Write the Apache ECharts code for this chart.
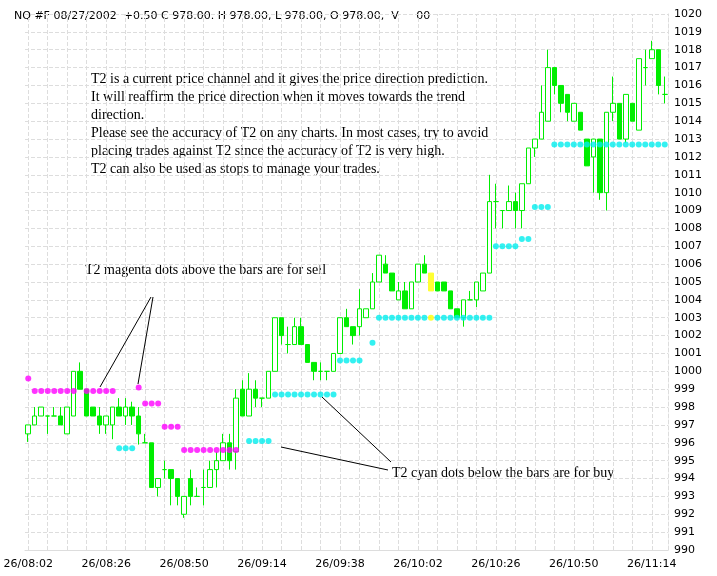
<!DOCTYPE html>
<html><head><meta charset="utf-8">
<script src="https://cdn.jsdelivr.net/npm/echarts@6/dist/echarts.min.js"></script>
<style>html,body{margin:0;padding:0;background:#fff}#c{width:717px;height:576px}</style>
</head><body><div id="c"></div>
<script>
// [open, close, low, high]
const bars = [
[996.5,997,996.05,997],[997,997.5,997,998],[997.5,998,997.5,998],[997.5,997.5,996.5,997.5],[997.5,997.5,997.5,998],
[997.5,997,997,998],[996.5,998,996.5,998],[997.5,1000,997.5,1000],[1000,999,999,1000.5],[999,997.5,997.5,999],
[998,997.5,997.5,998],[997.5,997,996.5,998],[997,997.5,996.5,997.5],[997,998,996.2,998],[998,997.5,997.5,998.5],
[997.5,998,997,998.5],[998,997.5,997,998.3],[997.5,996.5,995.9,998],[996,996,996,996.5],[996,993.5,993.5,996],
[993.5,994,993,994],[994.5,994.5,994,995],[994.5,994,992.5,994.5],[994,993,992.5,994],[992,993,991.8,993],
[994,993,992.5,994.5],[993,993,993,993.5],[993.5,993.5,992.5,994.5],[993.5,994.5,993.5,995],[994.5,995,993.5,995.5],
[995,996,995,996.5],[996,995,994.5,996.5],[995.5,998.5,994.5,999],[999,997.5,997.5,999.5],[997.5,999,997.5,999.9],
[999,998.5,998,999.5],[998.5,998.5,998,998.5],[998.5,1000,998.5,1000],[1000,1003,1000,1003],[1003,1002,1001.5,1003],
[1001.5,1001.5,1001,1002.5],[1001.5,1002.5,1001.5,1003],[1002.5,1001.5,1001.5,1003],[1001.5,1000.5,1000.5,1001.5],[1000.5,1000,999.5,1000.5],
[1000,1000,999.5,1000.5],[1000,1000,999.5,1000],[1000,1001,1000,1001],[1001,1003,1001,1003],[1003,1002.5,1002.5,1003.5],
[1002.5,1002,1001.5,1002.5],[1002.5,1003.5,1002,1004.6],[1003,1003.5,1003,1003.5],[1003.5,1005,1003.5,1005.5],[1005,1006.5,1005,1006.5],
[1006,1005.5,1005.5,1006.5],[1005.5,1004.5,1004.5,1005.5],[1004,1004.5,1004,1005],[1004.5,1003.5,1003.5,1005],[1003.5,1005,1003.5,1005],
[1005,1006,1005,1006],[1006,1005.5,1005.5,1006.5],[1005.5,1004.5,1004.5,1005.5],[1005,1004.5,1004.5,1005],[1005,1004.5,1004.5,1005],
[1004.5,1003.5,1003.5,1004.5],[1003.5,1003,1003,1003.5],[1003,1004,1002.5,1004],[1004,1004,1004,1004.5],[1004,1005,1003.6,1005],
[1004.5,1005.5,1004.5,1005.5],[1005.5,1009.5,1005.5,1011],[1009.5,1009.5,1008,1010.5],[1009,1009,1008,1009],[1009,1009.5,1009,1010.4],
[1009.5,1009,1008,1010],[1009,1010.5,1008,1010.5],[1010.5,1012.5,1010.5,1012.5],[1012.5,1013,1012,1013],[1013,1014.5,1013,1016],
[1014,1017,1014,1018],[1017,1016,1015.5,1017],[1016,1015,1014.5,1016],[1015.5,1014.5,1014,1015.5],[1014,1015,1014,1015],
[1014.5,1013.5,1013.5,1014.5],[1013,1011.5,1011.5,1013],[1012,1013,1010,1013],[1013,1010,1009.6,1013],[1010,1014.5,1009,1014.5],
[1014.5,1015,1014,1016.5],[1015,1013,1013,1015],[1013,1015.5,1012.8,1015.5],[1015,1014,1014,1015],[1013.5,1017.5,1013.5,1017.5],
[1017,1017,1016,1018],[1017.5,1018,1017.5,1018.5],[1018,1016,1015.5,1018],[1015.5,1015.5,1015,1016.5]
];
const yellowBar = 62;
// sell dots: [barIndex, price]
const sellDots = [[0,999.6],[1,998.9],[2,998.9],[3,998.9],[4,998.9],[5,998.9],[6,998.9],[7,998.9],
[9,998.9],[10,998.9],[11,998.9],[12,998.9],[13,998.9],[17,999.1],[18,998.2],[19,998.2],[20,998.2],
[21,996.9],[22,996.9],[23,996.9],[24,995.6],[25,995.6],[26,995.6],[27,995.6],[28,995.6],[29,995.6],[30,995.6],[31,995.6],[32,995.6]];
const buyDots = [[14,995.7],[15,995.7],[16,995.7],[34,996.1],[35,996.1],[36,996.1],[37,996.1],
[38,998.7],[39,998.7],[40,998.7],[41,998.7],[42,998.7],[43,998.7],[44,998.7],[45,998.7],[46,998.7],[47,998.7],
[48,1000.6],[49,1000.6],[50,1000.6],[51,1000.6],[53,1001.6],
[54,1003],[55,1003],[56,1003],[57,1003],[58,1003],[59,1003],[60,1003],[61,1003],[63,1003],[64,1003],[65,1003],[66,1003],[67,1003],[68,1003],[69,1003],[70,1003],[71,1003],
[72,1007],[73,1007],[74,1007],[75,1007],[76,1007.4],[77,1007.4],[78,1009.2],[79,1009.2],[80,1009.2],
[81,1012.7],[82,1012.7],[83,1012.7],[84,1012.7],[85,1012.7],[86,1012.7],[87,1012.7],[88,1012.7],[89,1012.7],[90,1012.7],
[91,1012.7],[92,1012.7],[93,1012.7],[94,1012.7],[95,1012.7],[96,1012.7],[97,1012.7],[98,1012.7]];
const yellowDots = [[62,1003]];
const timeLabels = ["26/08:02","26/08:26","26/08:50","26/09:14","26/09:38","26/10:02","26/10:26","26/10:50","26/11:14"];
const labelEvery = 12;
const gridEvery = 3;

const cats = bars.map((b,i)=> (i%labelEvery===0 ? timeLabels[i/labelEvery] : 'b'+i));
const green = '#00ee00';
const candleData = bars.map((b,i)=> {
  if (i===yellowBar) return {value:b,itemStyle:{color0:'#ffff33',borderColor0:'#ffff33'}};
  if (b[0]===b[1]) return {value:b,itemStyle:{borderColor:green,borderColor0:green,borderColorDoji:green}};
  return b;
});
const gridMarks = [];
for (let i=0;i<bars.length;i+=gridEvery) gridMarks.push({xAxis:i});

const chart = echarts.init(document.getElementById('c'));
const font = 'DejaVu Sans, Verdana, sans-serif';
const serif = 'Liberation Serif, Times New Roman, serif';
chart.setOption({
  animation:false,
  grid:{left:25,right:49,top:14,bottom:26},
  xAxis:{type:'category',data:cats,boundaryGap:true,
    axisLine:{lineStyle:{color:'#ddd'}},axisTick:{show:false},
    axisLabel:{interval:(i)=>i%labelEvery===0,color:'#000',fontFamily:font,fontSize:11,margin:9},
    splitLine:{show:false}},
  yAxis:{type:'value',position:'right',min:990,max:1020,interval:1,
    axisLine:{show:true,lineStyle:{color:'#ddd',type:'dashed'}},axisTick:{show:false},
    axisLabel:{color:'#000',fontFamily:font,fontSize:11,margin:6,formatter:(v)=>String(v)},
    splitLine:{lineStyle:{color:'#ddd',type:'dashed'}}},
  series:[
    {type:'candlestick',data:candleData,barWidth:5,
     itemStyle:{color:'#ffffff',color0:green,borderColor:green,borderColor0:green,borderColorDoji:green,borderWidth:1},
     markLine:{silent:true,symbol:'none',label:{show:false},lineStyle:{color:'#ddd',type:'dashed',width:1},data:gridMarks,z:1},
     z:3},
    {type:'scatter',data:sellDots,symbolSize:6,itemStyle:{color:'#ff00ff'},z:4},
    {type:'scatter',data:buyDots,symbolSize:6,itemStyle:{color:'#00eeee'},z:4},
    {type:'scatter',data:yellowDots,symbolSize:6,itemStyle:{color:'#ffff00'},z:4}
  ],
  graphic:[
    {type:'text',left:14,top:11,style:{text:'NQ #F 08/27/2002  +0.50 C 978.00. H 978.00, L 978.00, O 978.00,  V     00',font:'11px '+font,fill:'#000'}},
    {type:'text',left:91,top:70,style:{text:'T2 is a current price channel and it gives the price direction prediction.\nIt will reaffirm the price direction when it moves towards the trend\ndirection.\nPlease see the accuracy of T2 on any charts. In most cases, try to avoid\nplacing trades against T2 since the accuracy of T2 is very high.\nT2 can also be used as stops to manage your trades.',font:'14px '+serif,fill:'#000',lineHeight:18}},
    {type:'text',left:85,top:263,style:{text:'T2 magenta dots above the bars are for sell',font:'14px '+serif,fill:'#000'}},
    {type:'text',left:392,top:466,style:{text:'T2 cyan dots below the bars are for buy',font:'14px '+serif,fill:'#000'}},
    {type:'line',shape:{x1:151,y1:297,x2:100,y2:387},style:{stroke:'#000',lineWidth:1},z:10},
    {type:'line',shape:{x1:153,y1:297,x2:138,y2:384},style:{stroke:'#000',lineWidth:1},z:10},
    {type:'line',shape:{x1:391,y1:462,x2:322,y2:397},style:{stroke:'#000',lineWidth:1},z:10},
    {type:'line',shape:{x1:388,y1:470,x2:281,y2:447},style:{stroke:'#000',lineWidth:1},z:10}
  ]
});
</script></body></html>
